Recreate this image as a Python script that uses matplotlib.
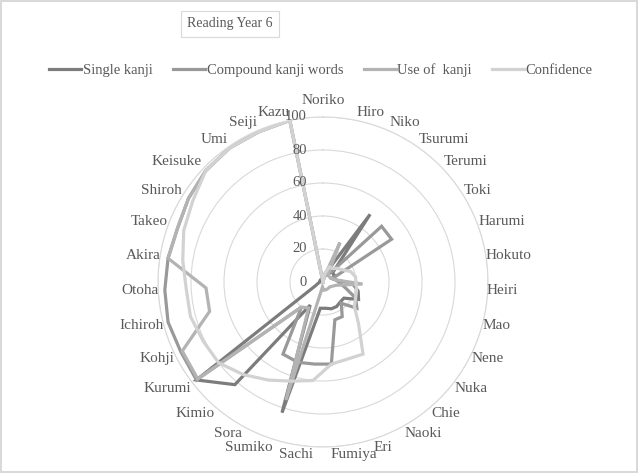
import numpy as np
import matplotlib
matplotlib.use('Agg')
from matplotlib import pyplot as plt
from matplotlib.transforms import ScaledTranslation
from matplotlib.lines import Line2D

students = ['Noriko', 'Hiro', 'Niko', 'Tsurumi', 'Terumi', 'Toki', 'Harumi', 'Hokuto',
            'Heiri', 'Mao', 'Nene', 'Nuka', 'Chie', 'Naoki', 'Eri', 'Fumiya', 'Sachi',
            'Sumiko', 'Sora', 'Kimio', 'Kurumi', 'Kohji', 'Ichiroh', 'Otoha', 'Akira',
            'Takeo', 'Shiroh', 'Keisuke', 'Umi', 'Seiji', 'Kazu']

single_kanji = [0, 5, 8, 50, 8, 8, 6, 8, 18, 22, 24, 16, 16, 17, 17, 16, 16,
                83, 16, 82, 97, 5, 3, 2, 2, 2, 2, 2, 2, 2, 2]
compound_kanji = [0, 3, 5, 5, 49, 49, 6, 8, 10, 14, 22, 26, 17, 24, 24, 50, 50,
                  51, 50, 20, 97, 96, 97, 96, 95, 94, 96, 98, 99, 99, 100]
use_of_kanji = [0, 3, 26, 5, 5, 5, 6, 8, 24, 8, 6, 5, 5, 5, 5, 5, 3,
                75, 18, 20, 96, 95, 71, 71, 95, 94, 96, 98, 99, 99, 100]
confidence = [0, 5, 10, 10, 12, 14, 18, 20, 20, 21, 22, 24, 33, 50, 49, 50, 60,
              63, 68, 74, 80, 81, 83, 83, 86, 90, 93, 98, 99, 99, 100]

series_names = ['Single kanji', 'Compound kanji words', 'Use of  kanji', 'Confidence']
series_colors = ['#7c7c7c', '#999999', '#b3b3b3', '#d2d2d2']
r_ticks = [0, 20, 40, 60, 80, 100]

plt.rcParams['font.family'] = ['Liberation Serif', 'DejaVu Serif']
txt_color = '#595959'

fig = plt.figure(figsize=(6.38, 4.73), dpi=100)
fig.patch.set_edgecolor('#d9d9d9')
fig.patch.set_linewidth(1.5)

cx, cy, R = 323 / 638, 1 - 282 / 473, 165
ax = fig.add_axes([cx - R / 638, cy - R / 473, 2 * R / 638, 2 * R / 473], projection='polar')
ax.set_theta_zero_location('N')
ax.set_theta_direction(-1)
ax.set_ylim(0, 100)
ax.set_facecolor('none')

n = len(students)
angles = np.arange(n) * 2 * np.pi / n
closed = np.append(angles, angles[0])

for name, vals, col in zip(series_names,
                           [single_kanji, compound_kanji, use_of_kanji, confidence],
                           series_colors):
    v = np.append(vals, vals[0])
    ax.plot(closed, v, color=col, lw=2.3, solid_joinstyle='miter', label=name)

ax.set_xticks(angles)
ax.set_xticklabels([])
ax.xaxis.grid(False)
ax.set_yticks(r_ticks[1:])
ax.set_yticklabels([])
ax.yaxis.grid(True, color='#d9d9d9', lw=0.8)
ax.spines['polar'].set_color('#d9d9d9')
ax.spines['polar'].set_linewidth(0.8)
ax.tick_params(length=0)

# radial value labels on the left of the top axis
off = ScaledTranslation(-16 / 100, 0, fig.dpi_scale_trans)
for t in r_ticks:
    ax.text(0, t, str(t), ha='right', va='center', fontsize=10.5, color=txt_color,
            transform=ax.transData + off, clip_on=False)

# category labels: box corner nearest the centre sits just outside the 100 ring
fig.canvas.draw()
renderer = fig.canvas.get_renderer()
for a, s in zip(angles, students):
    t = ax.text(a, 100, s, ha='center', va='center', fontsize=11, color=txt_color,
                clip_on=False)
    bb = t.get_window_extent(renderer)
    w, h = bb.width, bb.height * 0.8
    sx, cz = np.sin(a), np.cos(a)
    pad = -1 + 4 * abs(cz)
    if abs(sx) < 0.05:
        pad += 8
    ox = pad * sx + w / 2 * np.clip(sx * 6, -1, 1)
    oy = pad * cz + h / 2 * np.clip(cz * 1.5, -1, 1)
    t.set_transform(ax.transData + ScaledTranslation(ox / 100, oy / 100, fig.dpi_scale_trans))

fig.text(230 / 638, 1 - 24 / 473, 'Reading Year 6', ha='center', va='center',
         fontsize=10, color=txt_color,
         bbox=dict(boxstyle='square,pad=0.45', fc='white', ec='#d9d9d9', lw=0.8))

handles = [Line2D([0], [0], color=c, lw=2.3) for c in series_colors]
leg = fig.legend(handles, series_names, loc='center', bbox_to_anchor=(321 / 638, 1 - 70 / 473),
                 ncol=4, frameon=False, fontsize=10.5, handlelength=2.2, handletextpad=0.1,
                 columnspacing=1.4)
for t in leg.get_texts():
    t.set_color(txt_color)

fig.savefig('out.png', dpi=100)
